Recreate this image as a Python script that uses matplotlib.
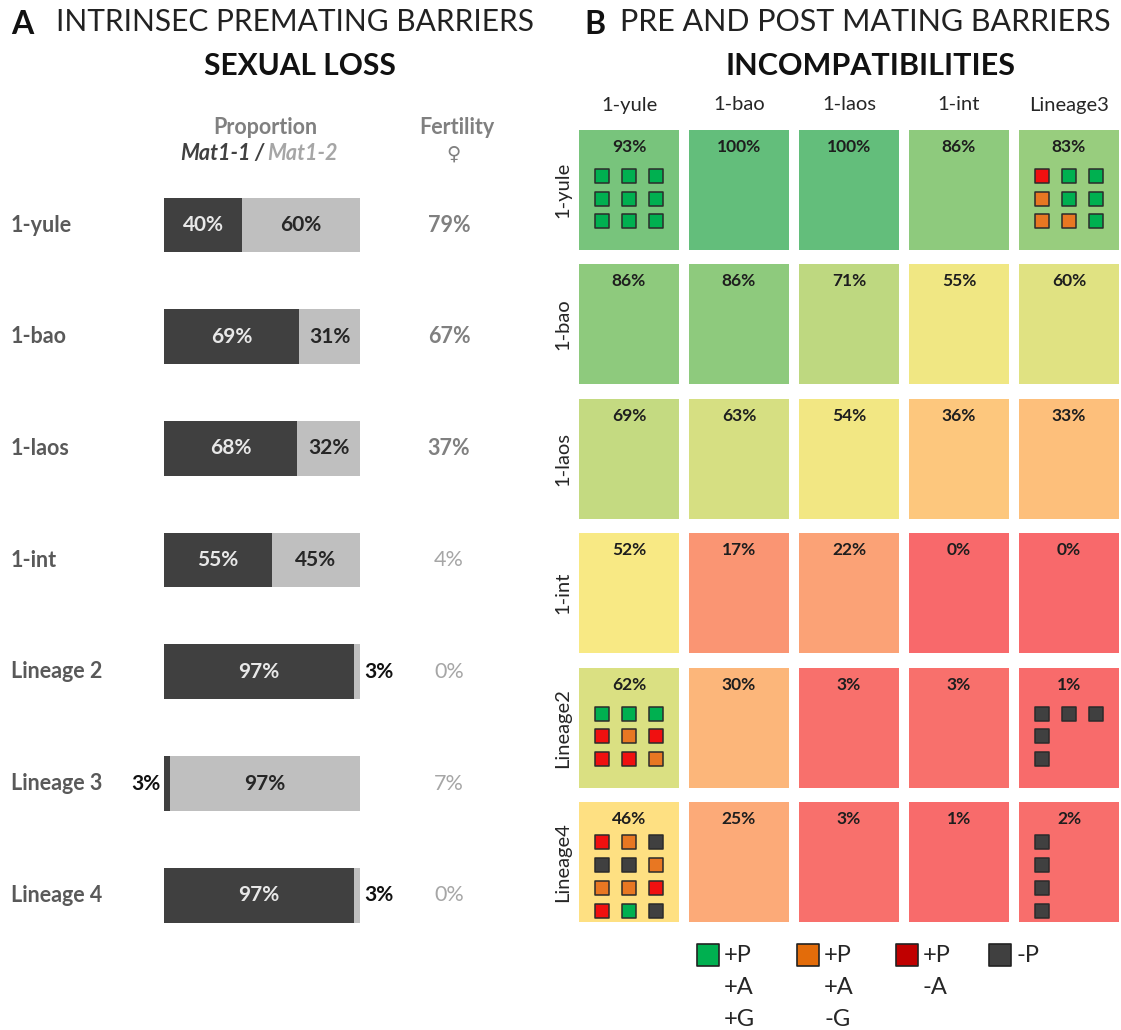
import matplotlib
matplotlib.use("Agg")
import matplotlib.pyplot as plt
from matplotlib.patches import Rectangle
from matplotlib.colors import LinearSegmentedColormap, Normalize

plt.rcParams['font.family'] = ['Lato', 'DejaVu Sans']

# ---- panel A data ----
lines_a = ["1-yule", "1-bao", "1-laos", "1-int", "Lineage 2", "Lineage 3", "Lineage 4"]
mat1_1 = [40, 69, 68, 55, 97, 3, 97]
mat1_2 = [60, 31, 32, 45, 3, 97, 3]
fertility = [79, 67, 37, 4, 0, 7, 0]

# ---- panel B data ----
rows_b = ["1-yule", "1-bao", "1-laos", "1-int", "Lineage2", "Lineage4"]
cols_b = ["1-yule", "1-bao", "1-laos", "1-int", "Lineage3"]
compat = [
    [93, 100, 100, 86, 83],
    [86, 86, 71, 55, 60],
    [69, 63, 54, 36, 33],
    [52, 17, 22, 0, 0],
    [62, 30, 3, 3, 1],
    [46, 25, 3, 1, 2],
]
# small squares per cross (row, col): G=+P+A+G, O=+P+A-G, R=+P-A, D=-P, .=empty
cross_rows = [0, 0, 4, 4, 5, 5]
cross_cols = [0, 4, 0, 4, 0, 4]
cross_marks = [
    ["GGG", "GGG", "GGG"],
    ["RGG", "OGG", "OOG"],
    ["GGG", "ROR", "RRO"],
    ["DDD", "D..", "D.."],
    ["ROD", "DDO", "OOR", "RGD"],
    ["D..", "D..", "D..", "D.."],
]
legend_codes = ["G", "O", "R", "D"]
legend_labels = [["+P", "+A", "+G"], ["+P", "+A", "-G"], ["+P", "-A"], ["-P"]]

mark_colors = {"G": "#00b050", "O": "#e87722", "R": "#f01010", "D": "#404040"}
legend_colors = {"G": "#00b050", "O": "#e36c0a", "R": "#c00000", "D": "#404040"}

W, H = 1121, 1030


def box(x0, y0, x1, y1):
    return [x0 / W, 1 - y1 / H, (x1 - x0) / W, (y1 - y0) / H]


def fxy(x, y):
    return x / W, 1 - y / H


fig = plt.figure(figsize=(W / 100, H / 100), dpi=100)

# titles
fig.text(*fxy(11, 24), "A", fontsize=23, fontweight="bold", color="#111111", va="center")
fig.text(*fxy(295, 22), "INTRINSEC PREMATING BARRIERS", fontsize=21.5, color="#222222",
         ha="center", va="center")
fig.text(*fxy(300, 66), "SEXUAL LOSS", fontsize=21.5, fontweight="bold", color="#111111",
         ha="center", va="center")
fig.text(*fxy(584, 24), "B", fontsize=23, fontweight="bold", color="#111111", va="center")
fig.text(*fxy(865, 22), "PRE AND POST MATING BARRIERS", fontsize=22, color="#222222",
         ha="center", va="center")
fig.text(*fxy(870, 66), "INCOMPATIBILITIES", fontsize=22, fontweight="bold", color="#111111",
         ha="center", va="center")

# panel A headers
fig.text(*fxy(265, 128), "Proportion", fontsize=15.5, fontweight="bold", color="#808080",
         ha="center", va="center")
fig.text(*fxy(251, 153), "Mat1-1", fontsize=15.5, fontweight="bold", style="italic",
         color="#404040", ha="right", va="center")
fig.text(*fxy(259, 153), "/", fontsize=15.5, fontweight="bold", style="italic",
         color="#404040", ha="center", va="center")
fig.text(*fxy(267, 153), "Mat1-2", fontsize=15.5, fontweight="bold", style="italic",
         color="#a6a6a6", ha="left", va="center")
fig.text(*fxy(457, 128), "Fertility", fontsize=15.5, fontweight="bold", color="#808080",
         ha="center", va="center")
fig.text(*fxy(453, 154), "\u2640", fontsize=14, fontweight="bold", color="#808080",
         ha="center", va="center", family=["DejaVu Sans"])

# ---- panel A ----
ax_a = fig.add_axes(box(0, 170, 560, 950))
bar_x0, bar_scale = 164, 1.96
row_y0, row_pitch = 225, 111.7
ax_a.set_xlim(-bar_x0 / bar_scale, (560 - bar_x0) / bar_scale)
ax_a.set_ylim((950 - row_y0) / row_pitch, (170 - row_y0) / row_pitch)
ax_a.axis("off")
ypos = list(range(len(lines_a)))
ax_a.barh(ypos, mat1_1, height=0.49, color="#404040")
ax_a.barh(ypos, mat1_2, left=mat1_1, height=0.49, color="#bfbfbf")
for i, name in enumerate(lines_a):
    ax_a.text((11 - bar_x0) / bar_scale, i, name, fontsize=15.5, fontweight="bold",
              color="#595959", ha="left", va="center")
    a, b = mat1_1[i], mat1_2[i]
    if a >= 10:
        ax_a.text(a / 2, i, f"{a}%", fontsize=15, fontweight="bold", color="#e8e8e8",
                  ha="center", va="center")
    else:
        ax_a.text(-2, i, f"{a}%", fontsize=15, fontweight="bold", color="#111111",
                  ha="right", va="center")
    if b >= 10:
        ax_a.text(a + b / 2, i, f"{b}%", fontsize=15, fontweight="bold", color="#262626",
                  ha="center", va="center")
    else:
        ax_a.text(a + b + 2, i, f"{b}%", fontsize=15, fontweight="bold", color="#111111",
                  ha="left", va="center")
    f = fertility[i]
    ax_a.text((449 - bar_x0) / bar_scale, i, f"{f}%", fontsize=15.5,
              fontweight="bold" if f >= 10 else "normal",
              color="#808080" if f >= 10 else "#a6a6a6", ha="center", va="center")

# ---- panel B ----
ax_b = fig.add_axes(box(579, 130, 1119, 922))
cpx, rpx = 110.0, 134.4
cw, ch = 100 / cpx, 120 / rpx
ax_b.set_xlim(0, 540 / cpx)
ax_b.set_ylim(792 / rpx, 0)
ax_b.axis("off")
cmap = LinearSegmentedColormap.from_list("excel", ["#F8696B", "#FFEB84", "#63BE7B"])
norm = Normalize(0, 100)
for i, rname in enumerate(rows_b):
    for j in range(len(cols_b)):
        v = compat[i][j]
        ax_b.add_patch(Rectangle((j, i), cw, ch, facecolor=cmap(norm(v)), edgecolor="none"))
        ax_b.text(j + 50 / cpx, i + 17 / rpx, f"{v}%", fontsize=12.5, fontweight="bold",
                  color="#1e1e1e", ha="center", va="center")
    ax_b.text(-16 / cpx, i + ch / 2, rname, fontsize=14.5, color="#262626", rotation=90,
              ha="center", va="center", clip_on=False)
for j, cname in enumerate(cols_b):
    ax_b.text(j + cw / 2, -25 / rpx, cname, fontsize=14.5, color="#262626",
              ha="center", va="center", clip_on=False)

sq_dx = [-27, 0, 27]
for r, c, marks in zip(cross_rows, cross_cols, cross_marks):
    start = 46 if len(marks) == 3 else 40
    pitch = 22.5 if len(marks) == 3 else 23
    for k, line in enumerate(marks):
        for m, code in enumerate(line):
            if code == ".":
                continue
            ax_b.scatter(c + (50 + sq_dx[m]) / cpx, r + (start + k * pitch) / rpx,
                         marker="s", s=110, color=mark_colors[code],
                         edgecolors="#2b2b2b", linewidths=1.1, zorder=3)

# ---- legend ----
ax_l = fig.add_axes(box(680, 935, 1121, 1030))
ax_l.set_xlim(680, 1121)
ax_l.set_ylim(1030, 935)
ax_l.axis("off")
leg_x = [708, 808, 907, 1000]
for x, code, labels in zip(leg_x, legend_codes, legend_labels):
    ax_l.scatter(x, 955, marker="s", s=230, color=legend_colors[code],
                 edgecolors="#222222", linewidths=1.2)
    for k, lab in enumerate(labels):
        ax_l.text(x + 16, 955 + 32.5 * k, lab, fontsize=17, color="#262626",
                  ha="left", va="center")

fig.savefig("out.png", dpi=100)
